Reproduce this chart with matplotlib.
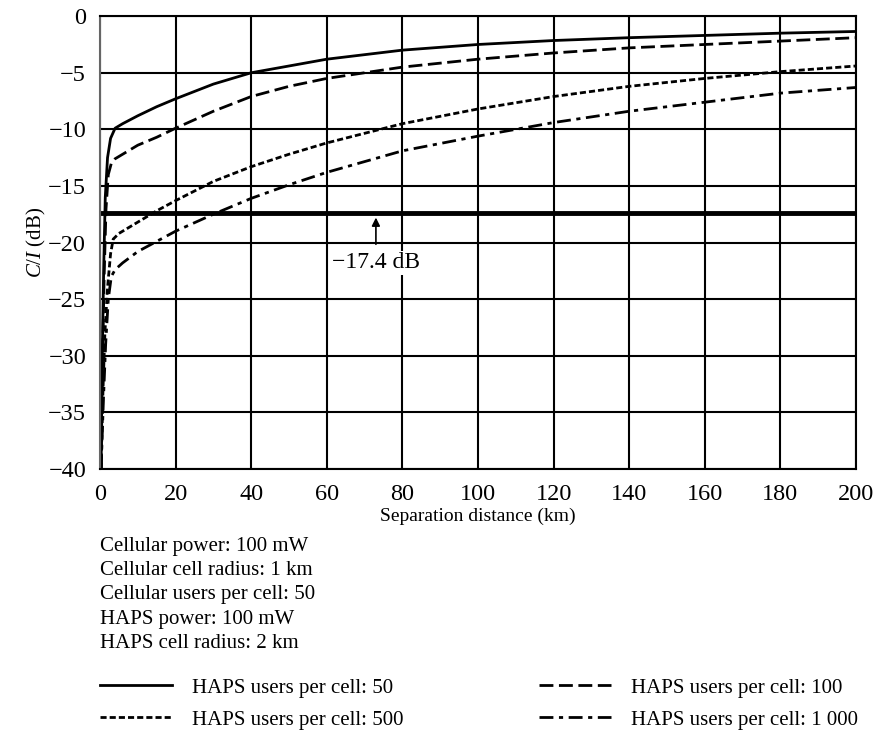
import matplotlib
matplotlib.use("Agg")
import matplotlib.pyplot as plt

plt.rcParams['font.family'] = ['Liberation Serif', 'DejaVu Serif']
plt.rcParams['mathtext.fontset'] = 'custom'
plt.rcParams['mathtext.it'] = 'Liberation Serif:italic'
plt.rcParams['mathtext.rm'] = 'Liberation Serif'

# Data
x_50 = [0.3, 0.6, 1.0, 1.4, 2.0, 2.8, 4, 6, 10, 15, 20, 30, 40, 50, 60, 80, 100, 120, 140, 160, 180, 200]
y_50 = [-40, -30, -22, -16, -12.5, -10.8, -9.9, -9.5, -8.8, -8.0, -7.3, -6.0, -5.0, -4.4, -3.8, -3.0, -2.5, -2.15, -1.9, -1.7, -1.5, -1.35]

x_100 = [0.3, 0.7, 1.1, 1.6, 2.2, 3, 4, 6, 10, 15, 20, 30, 40, 50, 60, 80, 100, 120, 140, 160, 180, 200]
y_100 = [-40, -30, -23, -17, -14, -13, -12.6, -12.2, -11.4, -10.7, -9.9, -8.4, -7.1, -6.2, -5.5, -4.5, -3.8, -3.25, -2.8, -2.5, -2.2, -1.9]

x_500 = [0.3, 0.8, 1.3, 2, 2.8, 3.5, 5, 10, 15, 20, 30, 40, 50, 60, 80, 100, 120, 140, 160, 180, 200]
y_500 = [-40, -33, -28, -24, -21, -19.7, -19.2, -18.2, -17.2, -16.3, -14.6, -13.3, -12.2, -11.2, -9.5, -8.2, -7.1, -6.2, -5.5, -4.9, -4.4]

x_1000 = [0.3, 0.9, 1.5, 2.2, 3, 4, 6, 10, 15, 20, 30, 40, 50, 60, 80, 100, 120, 140, 160, 180, 200]
y_1000 = [-40, -34, -29, -25, -23, -22.4, -21.8, -20.8, -19.9, -19.0, -17.5, -16.1, -14.9, -13.8, -11.9, -10.6, -9.4, -8.4, -7.6, -6.8, -6.3]

threshold = -17.4
series_labels = ["HAPS users per cell: 50", "HAPS users per cell: 100",
                 "HAPS users per cell: 500", "HAPS users per cell: 1 000"]
param_lines = ["Cellular power: 100 mW", "Cellular cell radius: 1 km",
               "Cellular users per cell: 50", "HAPS power: 100 mW",
               "HAPS cell radius: 2 km"]
x_ticks = list(range(0, 201, 20))
y_ticks = list(range(-40, 1, 5))

fig = plt.figure(figsize=(8.77, 7.36), dpi=100)
ax = fig.add_axes([0.114, 0.363, 0.862, 0.615])

lw = 2.0
l1, = ax.plot(x_50, y_50, color='black', lw=lw, linestyle='-')
l2, = ax.plot(x_100, y_100, color='black', lw=lw, linestyle=(0, (5, 2)))
l3, = ax.plot(x_500, y_500, color='black', lw=lw, linestyle=(0, (2.2, 1.1)))
l4, = ax.plot(x_1000, y_1000, color='black', lw=lw, linestyle=(0, (5, 2, 1.5, 2)))

ax.axhline(threshold, color='black', lw=3.5)
ax.annotate('', xy=(73, threshold - 0.15), xytext=(73, -20.4),
            arrowprops=dict(arrowstyle='-|>', color='black', lw=1.2, mutation_scale=12))
ax.text(73, -21.8, '\u221217.4 dB', ha='center', va='center', fontsize=17,
        bbox=dict(facecolor='white', edgecolor='none', pad=1))

ax.set_xlim(0, 200)
ax.set_ylim(-40, 0)
ax.set_xticks(x_ticks)
ax.set_yticks(y_ticks)
ax.grid(True, color='black', lw=1.5)
ax.set_axisbelow(True)
ax.tick_params(length=0, labelsize=17.5)
ax.tick_params(axis='x', pad=11)
ax.tick_params(axis='y', pad=10)
for s in ax.spines.values():
    s.set_color('black')
    s.set_linewidth(1.5)
ax.spines['left'].set_color('#666666')
ax.set_xlabel('Separation distance (km)', fontsize=14, labelpad=2.2)
ax.set_ylabel(r'$\it{C/I}$ (dB)', fontsize=15, labelpad=0)

for i, t in enumerate(param_lines):
    fig.text(0.114, 1 - (546 + 24.5 * i) / 736, t, fontsize=15, ha='left', va='center')

leg = fig.legend([l1, l3, l2, l4],
                 [series_labels[0], series_labels[2], series_labels[1], series_labels[3]],
                 ncol=2, loc='upper left',
                 bbox_to_anchor=(100 / 877, 1 - 678 / 736), frameon=False, fontsize=15,
                 borderaxespad=0, borderpad=0,
                 handlelength=3.46, handletextpad=0.96, columnspacing=6.5,
                 labelspacing=0.6)

fig.savefig('out.png', dpi=100)
